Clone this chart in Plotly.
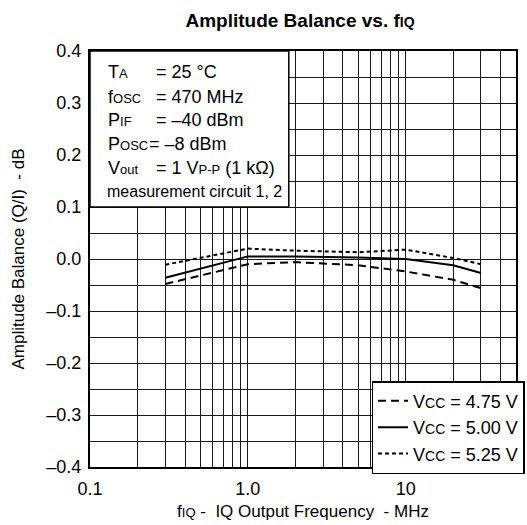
import plotly.graph_objects as go

# ---- data ----
freq_mhz = [0.3, 1.0, 2.0, 5.0, 10.0, 20.0, 30.0]
bal_vcc_475 = [-0.048, -0.010, -0.006, -0.012, -0.024, -0.040, -0.056]
bal_vcc_500 = [-0.036, 0.005, 0.005, 0.003, 0.000, -0.012, -0.027]
bal_vcc_525 = [-0.011, 0.020, 0.016, 0.013, 0.018, 0.002, -0.010]

def small(s, size=13):
    return f'<span style="font-size:{size}px">{s}</span>'

series_names = ["V" + small("CC", 14) + " = 4.75 V",
                "V" + small("CC", 14) + " = 5.00 V",
                "V" + small("CC", 14) + " = 5.25 V"]

x_major = [0.1, 1.0, 10.0]
x_major_text = ["0.1", "1.0", "10"]
x_minor = [0.2, 0.3, 0.4, 0.5, 0.6, 0.7, 0.8, 0.9,
           2, 3, 4, 5, 6, 7, 8, 9, 20, 30, 40]
y_major = [0.4, 0.3, 0.2, 0.1, 0.0, -0.1, -0.2, -0.3, -0.4]
y_major_text = ["0.4", "0.3", "0.2", "0.1", "0.0", "–0.1", "–0.2", "–0.3", "–0.4"]

cond_labels = ["T" + small("A"), "f" + small("OSC"), "P" + small("IF"),
               "P" + small("OSC"), "V" + small("out")]
cond_values = ["= 25 °C", "= 470 MHz", "= –40 dBm", "= –8 dBm",
               "= 1 V" + small("P-P") + " (1 kΩ)"]
cond_note = "measurement circuit 1, 2"

FONT = "Liberation Sans, Arial, sans-serif"
GRID = "#1a1a1a"

fig = go.Figure()
styles = ["8px,5px", "solid", "4px,3px"]
for name, ys, st in zip(series_names, [bal_vcc_475, bal_vcc_500, bal_vcc_525], styles):
    fig.add_trace(go.Scatter(x=freq_mhz, y=ys, mode="lines", name=name,
                             line=dict(color="black", width=2, dash=st)))

L, R, T, B = 90, 525, 51, 467
def xdom(px):
    return (px - L) / (R - L)
def ydom(py):
    return (B - py) / (B - T)

# condition box
fig.add_shape(type="rect", xref="x domain", yref="y domain",
              x0=0, x1=xdom(293), y0=ydom(207), y1=1.0,
              fillcolor="white", line=dict(color="black", width=1.5), layer="above")

line_y = [71.7, 96.7, 120.0, 144.3, 168.3]
for i, (lab, val) in enumerate(zip(cond_labels, cond_values)):
    fig.add_annotation(xref="x domain", yref="y domain", x=xdom(106), y=ydom(line_y[i]),
                       text=lab, showarrow=False, xanchor="left", yanchor="middle",
                       font=dict(family=FONT, size=18, color="black"))
    vx = 148 if i == 3 else 155
    fig.add_annotation(xref="x domain", yref="y domain", x=xdom(vx), y=ydom(line_y[i]),
                       text=val, showarrow=False, xanchor="left", yanchor="middle",
                       font=dict(family=FONT, size=18, color="black"))
fig.add_annotation(xref="x domain", yref="y domain", x=xdom(105), y=ydom(191.7),
                   text=cond_note, showarrow=False, xanchor="left", yanchor="middle",
                   font=dict(family=FONT, size=16, color="black"))

fig.update_layout(
    width=527, height=525,
    margin=dict(l=L, r=527 - R, t=T, b=525 - B),
    paper_bgcolor="white", plot_bgcolor="white",
    font=dict(family=FONT, size=17, color="black"),
    title=dict(text="<b>Amplitude Balance vs. f" + small("IQ", 14) + "</b>",
               x=300 / 527, xanchor="center",
               y=1 - 20 / 525, yanchor="middle",
               font=dict(family=FONT, size=19, color="black")),
    showlegend=True,
    legend=dict(x=1.02, y=-0.017, xanchor="right", yanchor="bottom", bgcolor="white",
                bordercolor="black", borderwidth=1.5,
                font=dict(family=FONT, size=18, color="black"),
                tracegroupgap=0, itemwidth=30),
)
fig.update_xaxes(type="log", range=[-1, 1.69897], tickmode="array",
                 tickvals=x_major, ticktext=x_major_text, ticks="",
                 showgrid=True, gridcolor=GRID, gridwidth=1,
                 minor=dict(tickmode="array", tickvals=x_minor, showgrid=True,
                            gridcolor=GRID, gridwidth=1, ticks=""),
                 showline=True, linecolor="black", linewidth=2, mirror=True,
                 zeroline=False, ticklabelstandoff=4,
                 title=dict(text="f" + small("IQ") + " -  IQ Output Frequency  - MHz",
                            font=dict(family=FONT, size=17), standoff=8),
                 tickfont=dict(family=FONT, size=18))
fig.update_yaxes(range=[-0.4, 0.4], tickmode="array", tickvals=y_major, ticktext=y_major_text,
                 ticks="", showgrid=True, gridcolor=GRID, gridwidth=1,
                 minor=dict(dtick=0.05, showgrid=True, gridcolor=GRID, gridwidth=1, ticks=""),
                 showline=True, linecolor="black", linewidth=2, mirror=True,
                 zeroline=False, ticklabelstandoff=3,
                 title=dict(text="Amplitude Balance (Q/I)  - dB",
                            font=dict(family=FONT, size=17), standoff=17),
                 tickfont=dict(family=FONT, size=18))

fig.write_html("out.html")
